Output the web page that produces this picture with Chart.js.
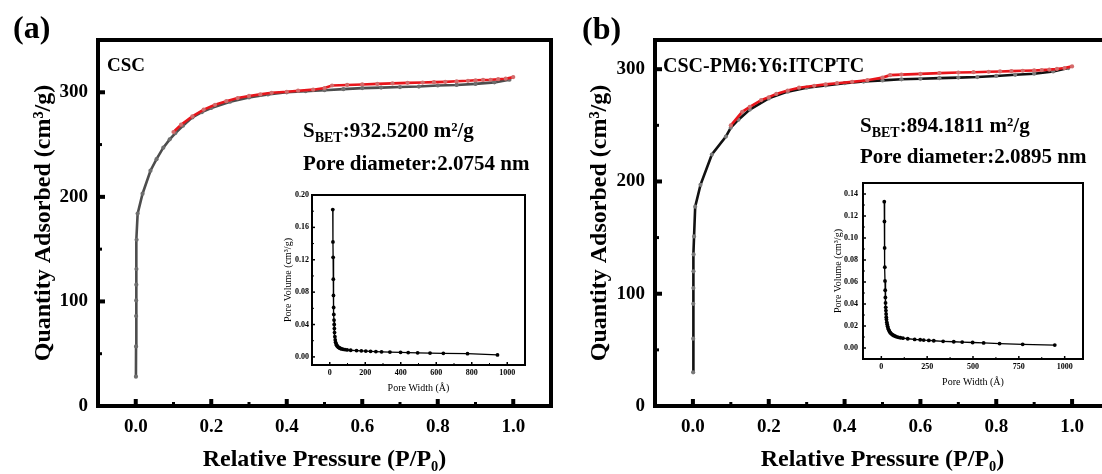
<!DOCTYPE html>
<html>
<head>
<meta charset="utf-8">
<script src="https://cdn.jsdelivr.net/npm/chart.js@4.4.1/dist/chart.umd.min.js"></script>
<style>
  html, body { margin: 0; padding: 0; background: #fff; }
  #wrap { position: relative; width: 1102px; height: 474px; overflow: hidden; background: #fff; }
  canvas { position: absolute; }
</style>
</head>
<body>
<div id="wrap">
  <canvas id="mainA" width="560" height="474" style="left:0;top:0"></canvas>
  <canvas id="mainB" width="560" height="474" style="left:555px;top:0"></canvas>
  <canvas id="insetA" width="265" height="215" style="left:270px;top:185px"></canvas>
  <canvas id="insetB" width="273" height="220" style="left:820px;top:173px"></canvas>
</div>
<script>
// ---- data ----
// (a) CSC isotherm
const pressureAdsA = [0.0005, 0.0008, 0.001, 0.0012, 0.0015, 0.0018, 0.0022, 0.005, 0.018, 0.039, 0.055, 0.073, 0.09, 0.105, 0.125, 0.15, 0.175, 0.2, 0.25, 0.3, 0.35, 0.4, 0.45, 0.5, 0.55, 0.6, 0.65, 0.7, 0.75, 0.8, 0.85, 0.9, 0.95, 0.99];
const quantityAdsA = [28, 57, 86, 101, 116, 131, 159, 184, 203, 225, 236, 247, 255, 261, 268, 276, 281, 285, 291, 295, 298, 300, 301, 302, 303, 304, 304.5, 305, 305.5, 306.5, 307, 308, 309.5, 312];
const pressureDesA = [1.0, 0.98, 0.96, 0.94, 0.92, 0.9, 0.88, 0.85, 0.82, 0.79, 0.76, 0.72, 0.68, 0.64, 0.6, 0.56, 0.52, 0.5, 0.47, 0.43, 0.4, 0.36, 0.33, 0.3, 0.27, 0.24, 0.21, 0.18, 0.15, 0.12, 0.1];
const quantityDesA = [314.5, 313, 312.5, 312, 311.8, 311.5, 311, 310.5, 310, 309.7, 309.3, 309, 308.5, 308, 307.5, 307, 306.5, 304, 302.5, 301.5, 300.5, 299.5, 298, 296.5, 294.5, 291.5, 288, 283.5, 277, 269, 262];

// (b) CSC-PM6:Y6:ITCPTC isotherm
const pressureAdsB = [0.0005, 0.0008, 0.001, 0.0012, 0.0015, 0.0018, 0.003, 0.006, 0.02, 0.05, 0.087, 0.1, 0.12, 0.15, 0.2, 0.25, 0.3, 0.35, 0.4, 0.45, 0.5, 0.55, 0.6, 0.65, 0.7, 0.75, 0.8, 0.85, 0.9, 0.95, 0.99];
const quantityAdsB = [30, 60, 91, 105, 120, 135, 151, 177.5, 197, 224, 240, 248, 255, 264, 274, 280, 283.5, 285.5, 287.5, 289, 290, 291, 291.5, 292, 292.5, 293, 294, 295, 296, 298, 301];
const pressureDesB = [1.0, 0.98, 0.96, 0.94, 0.92, 0.9, 0.87, 0.84, 0.81, 0.78, 0.74, 0.7, 0.65, 0.6, 0.55, 0.52, 0.5, 0.46, 0.42, 0.38, 0.35, 0.32, 0.28, 0.25, 0.22, 0.2, 0.18, 0.15, 0.13, 0.1];
const quantityDesB = [302.5, 301, 300.2, 299.6, 299.2, 298.9, 298.6, 298.3, 298, 297.7, 297.3, 297, 296.5, 295.8, 295.2, 294.7, 292.5, 290.2, 288.7, 287.5, 286.5, 285.2, 283.5, 281, 278, 275, 272.5, 266.5, 262, 250];

// pore size distributions (insets)
const poreWidthA = [17, 18, 19, 20, 21, 22, 23, 24, 25, 26, 27, 29, 31, 33, 36, 39, 42, 46, 50, 55, 61, 68, 76, 86, 98, 118, 151, 178, 203, 230, 260, 292, 339, 399, 442, 495, 565, 640, 776, 945];
const poreVolumeA = [0.182, 0.142, 0.123, 0.096, 0.076, 0.061, 0.0525, 0.0455, 0.040, 0.035, 0.030, 0.025, 0.021, 0.018, 0.016, 0.0145, 0.0135, 0.0125, 0.0117, 0.011, 0.0104, 0.0099, 0.0094, 0.009, 0.0086, 0.0082, 0.0078, 0.0075, 0.0072, 0.0069, 0.0066, 0.0063, 0.006, 0.0056, 0.0053, 0.005, 0.0047, 0.0044, 0.004, 0.0025];
const poreWidthB = [16, 17, 18, 19, 20, 21, 22, 23, 24, 25, 26, 27, 28, 30, 32, 34, 36, 39, 42, 45, 49, 53, 58, 63, 69, 76, 84, 93, 104, 118, 144, 182, 212, 231, 259, 286, 337, 395, 441, 498, 558, 645, 771, 946];
const poreVolumeB = [0.133, 0.115, 0.091, 0.0735, 0.061, 0.0525, 0.046, 0.041, 0.037, 0.034, 0.031, 0.028, 0.026, 0.0235, 0.0215, 0.0198, 0.0184, 0.017, 0.0158, 0.0148, 0.0139, 0.0131, 0.0124, 0.0118, 0.0112, 0.0107, 0.0102, 0.0097, 0.0093, 0.0089, 0.0084, 0.0078, 0.0075, 0.0072, 0.0069, 0.0066, 0.0061, 0.0057, 0.0054, 0.005, 0.0046, 0.004, 0.0033, 0.0027];

// tick labels
const mainXTicks = [0, 0.2, 0.4, 0.6, 0.8, 1.0];
const mainXMinor = [0.1, 0.3, 0.5, 0.7, 0.9];
const mainYTicks = [0, 100, 200, 300];
const mainYMinor = [50, 150, 250];
const insetXTicksA = [0, 200, 400, 600, 800, 1000];
const insetXMinorA = [100, 300, 500, 700, 900];
const insetYTicksA = [0, 0.04, 0.08, 0.12, 0.16, 0.20];
const insetYMinorA = [0.02, 0.06, 0.10, 0.14, 0.18];
const insetXTicksB = [0, 250, 500, 750, 1000];
const insetXMinorB = [125, 375, 625, 875];
const insetYTicksB = [0, 0.02, 0.04, 0.06, 0.08, 0.10, 0.12, 0.14];
const insetYMinorB = [0.01, 0.03, 0.05, 0.07, 0.09, 0.11, 0.13];

const serif = "'Liberation Serif', 'Times New Roman', serif";
Chart.defaults.font.family = serif;
Chart.defaults.color = '#000';

const pts = (xs, ys) => xs.map((x, i) => ({x: x, y: ys[i]}));

// thick frame + inward tick marks
const frameTicks = {
  id: 'frameTicks',
  afterDraw(chart, args, o) {
    const {ctx, chartArea: a, scales: {x, y}} = chart;
    ctx.save();
    ctx.strokeStyle = '#000';
    ctx.lineCap = 'butt';
    const tick = (list, len, w) => {
      ctx.lineWidth = w;
      list.x.forEach(v => {
        const px = x.getPixelForValue(v);
        ctx.beginPath(); ctx.moveTo(px, a.bottom); ctx.lineTo(px, a.bottom - len); ctx.stroke();
      });
      list.y.forEach(v => {
        const py = y.getPixelForValue(v);
        ctx.beginPath(); ctx.moveTo(a.left, py); ctx.lineTo(a.left + len, py); ctx.stroke();
      });
    };
    tick({x: o.xMajor, y: o.yMajor}, o.majorLen, o.majorW);
    tick({x: o.xMinor, y: o.yMinor}, o.minorLen, o.minorW);
    ctx.lineWidth = o.lw;
    ctx.strokeRect(a.left, a.top, a.right - a.left, a.bottom - a.top);
    ctx.restore();
  }
};

// free text (panel letters, sample names, BET numbers)
function drawRuns(ctx, x, y, runs) {
  runs.forEach(([text, size, dy]) => {
    ctx.font = 'bold ' + size + 'px ' + serif;
    ctx.fillText(text, x, y + dy);
    x += ctx.measureText(text).width;
  });
}
const labels = {
  id: 'labels',
  afterDraw(chart, args, o) {
    const ctx = chart.ctx;
    ctx.save();
    ctx.fillStyle = '#000';
    ctx.textBaseline = 'alphabetic';
    ctx.textAlign = 'left';
    o.items.forEach(it => drawRuns(ctx, it.x, it.y, it.runs));
    ctx.restore();
  }
};

function mainChart(id, opts) {
  return new Chart(document.getElementById(id), {
    type: 'scatter',
    data: {
      datasets: [{
        data: pts(opts.desX, opts.desY),
        showLine: true, order: 0,
        borderColor: '#e8161c', borderWidth: 2.6,
        pointRadius: 2.1, pointBackgroundColor: '#d46a6a', pointBorderWidth: 0
      }, {
        data: pts(opts.adsX, opts.adsY),
        showLine: true, order: 1,
        borderColor: opts.adsColor, borderWidth: 2.6,
        pointRadius: 2.1, pointBackgroundColor: opts.adsPoint, pointBorderWidth: 0
      }]
    },
    options: {
      responsive: false, animation: false, devicePixelRatio: 1,
      layout: {padding: {left: 0, top: 40, right: opts.padRight, bottom: 0}},
      plugins: {
        legend: {display: false}, tooltip: {enabled: false},
        frameTicks: {lw: 4, majorLen: 7, majorW: 4, minorLen: 4, minorW: 3,
          xMajor: mainXTicks, xMinor: mainXMinor, yMajor: mainYTicks, yMinor: mainYMinor},
        labels: {items: opts.texts}
      },
      scales: {
        x: {
          type: 'linear', min: -0.1, max: 1.1,
          afterFit: s => { s.height = 68; },
          afterBuildTicks: s => { s.ticks = mainXTicks.map(v => ({value: v})); },
          grid: {display: false, drawTicks: false}, border: {display: false},
          ticks: {padding: 10, font: {size: 19, weight: 'bold'}, maxRotation: 0, autoSkip: false,
            callback: v => v.toFixed(1)},
          title: {display: true, text: 'Relative Pressure (P/P\u2080)', font: {size: 24, weight: 'bold'},
            padding: {top: 0, bottom: 0}}
        },
        y: {
          type: 'linear', min: 0, max: opts.yMax,
          afterFit: s => { s.width = opts.yWidth; },
          afterBuildTicks: s => { s.ticks = mainYTicks.map(v => ({value: v})); },
          grid: {display: false, drawTicks: false}, border: {display: false},
          ticks: {padding: 10, font: {size: 19, weight: 'bold'}, callback: v => String(v)},
          title: {display: true, text: 'Quantity Adsorbed (cm\u00b3/g)', font: {size: 24, weight: 'bold'},
            padding: {top: opts.titlePad, bottom: 0}}
        }
      }
    },
    plugins: [frameTicks, labels]
  });
}

function insetChart(id, opts) {
  return new Chart(document.getElementById(id), {
    type: 'scatter',
    data: {
      datasets: [{
        data: pts(opts.xs, opts.ys),
        showLine: true, borderColor: '#000', borderWidth: 1.3,
        pointRadius: 1.9, pointBackgroundColor: '#000', pointBorderWidth: 0
      }]
    },
    options: {
      responsive: false, animation: false, devicePixelRatio: 1,
      layout: {padding: {left: 0, top: 10, right: 10, bottom: 0}},
      plugins: {
        legend: {display: false}, tooltip: {enabled: false},
        frameTicks: {lw: 2, majorLen: 3, majorW: 1.5, minorLen: 2, minorW: 1,
          xMajor: opts.xTicks, xMinor: opts.xMinor, yMajor: opts.yTicks, yMinor: opts.yMinor}
      },
      scales: {
        x: {
          type: 'linear', min: -100, max: 1100,
          afterFit: s => { s.height = opts.xHeight; },
          afterBuildTicks: s => { s.ticks = opts.xTicks.map(v => ({value: v})); },
          grid: {display: false, drawTicks: false}, border: {display: false},
          ticks: {padding: 3, font: {size: 8, weight: 'bold'}, maxRotation: 0, autoSkip: false,
            callback: v => String(v)},
          title: {display: true, text: 'Pore Width (\u00c5)', font: {size: 10},
            padding: {top: 0, bottom: opts.xTitlePad}}
        },
        y: {
          type: 'linear', min: -0.01, max: opts.yMax,
          afterFit: s => { s.width = opts.yWidth; },
          afterBuildTicks: s => { s.ticks = opts.yTicks.map(v => ({value: v})); },
          grid: {display: false, drawTicks: false}, border: {display: false},
          ticks: {padding: opts.yTickPad, font: {size: 8, weight: 'bold'}, callback: v => v.toFixed(2)},
          title: {display: true, text: 'Pore Volume (cm\u00b3/g)', font: {size: 10},
            padding: {top: 12, bottom: 0}}
        }
      }
    },
    plugins: [frameTicks]
  });
}

mainChart('mainA', {
  adsX: pressureAdsA, adsY: quantityAdsA, desX: pressureDesA, desY: quantityDesA,
  adsColor: '#4d4d4d', adsPoint: '#6e6e6e',
  yMax: 350, yWidth: 98, padRight: 9, titlePad: 29,
  texts: [
    {x: 13, y: 38, runs: [['(a)', 32, 0]]},
    {x: 107, y: 71, runs: [['CSC', 19, 0]]},
    {x: 303, y: 137, runs: [['S', 21, 0], ['BET', 14, 5], [':932.5200 m\u00b2/g', 21, 0]]},
    {x: 303, y: 170, runs: [['Pore diameter:2.0754 nm', 21, 0]]}
  ]
});

mainChart('mainB', {
  adsX: pressureAdsB, adsY: quantityAdsB, desX: pressureDesB, desY: quantityDesB,
  adsColor: '#111111', adsPoint: '#7a7a7a',
  yMax: 326, yWidth: 100, padRight: 5, titlePad: 30,
  texts: [
    {x: 27, y: 39, runs: [['(b)', 32, 0]]},
    {x: 108, y: 72, runs: [['CSC-PM6:Y6:ITCPTC', 20, 0]]},
    {x: 305, y: 132, runs: [['S', 21, 0], ['BET', 14, 5], [':894.1811 m\u00b2/g', 21, 0]]},
    {x: 305, y: 163, runs: [['Pore diameter:2.0895 nm', 21, 0]]}
  ]
});

insetChart('insetA', {
  xs: poreWidthA, ys: poreVolumeA, yMax: 0.20,
  xTicks: insetXTicksA, xMinor: insetXMinorA, yTicks: insetYTicksA, yMinor: insetYMinorA,
  yWidth: 42, xHeight: 35, xTitlePad: 6, yTickPad: 3
});

insetChart('insetB', {
  xs: poreWidthB, ys: poreVolumeB, yMax: 0.15,
  xTicks: insetXTicksB, xMinor: insetXMinorB, yTicks: insetYTicksB, yMinor: insetYMinorB,
  yWidth: 43, xHeight: 34, xTitlePad: 5, yTickPad: 5
});
</script>
</body>
</html>
